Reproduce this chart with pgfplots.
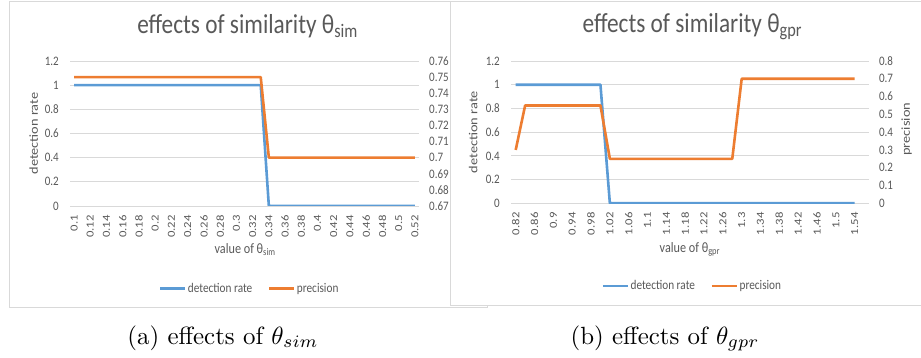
\documentclass[border=0pt]{standalone}
\usepackage{pgfplots}
\pgfplotsset{compat=1.18}
\usepackage{fontspec}
\newfontfamily\carlh[FakeStretch=0.85]{Carlito}
\newfontfamily\carlv[FakeStretch=1.18]{Carlito}
\definecolor{txt}{HTML}{595959}
\definecolor{grd}{HTML}{D9D9D9}
\definecolor{frm}{HTML}{D9D9D9}
\definecolor{blu}{HTML}{5B9BD5}
\definecolor{org}{HTML}{ED7D31}

\pgfplotstableread{
i det prec
0 1 0.75
1 1 0.75
2 1 0.75
3 1 0.75
4 1 0.75
5 1 0.75
6 1 0.75
7 1 0.75
8 1 0.75
9 1 0.75
10 1 0.75
11 1 0.75
12 1 0.75
13 1 0.75
14 1 0.75
15 1 0.75
16 1 0.75
17 1 0.75
18 1 0.75
19 1 0.75
20 1 0.75
21 1 0.75
22 1 0.75
23 1 0.75
24 0 0.70
25 0 0.70
26 0 0.70
27 0 0.70
28 0 0.70
29 0 0.70
30 0 0.70
31 0 0.70
32 0 0.70
33 0 0.70
34 0 0.70
35 0 0.70
36 0 0.70
37 0 0.70
38 0 0.70
39 0 0.70
40 0 0.70
41 0 0.70
42 0 0.70
}\simdata

\pgfplotstableread{
i det prec
0 1 0.30
1 1 0.55
2 1 0.55
3 1 0.55
4 1 0.55
5 1 0.55
6 1 0.55
7 1 0.55
8 1 0.55
9 1 0.55
10 0 0.25
11 0 0.25
12 0 0.25
13 0 0.25
14 0 0.25
15 0 0.25
16 0 0.25
17 0 0.25
18 0 0.25
19 0 0.25
20 0 0.25
21 0 0.25
22 0 0.25
23 0 0.25
24 0 0.70
25 0 0.70
26 0 0.70
27 0 0.70
28 0 0.70
29 0 0.70
30 0 0.70
31 0 0.70
32 0 0.70
33 0 0.70
34 0 0.70
35 0 0.70
36 0 0.70
}\gprdata

\pgfplotsset{
  excel/.style={
    scale only axis,
    axis line style={draw=none},
    major tick length=0pt,
    tick label style={font=\carlh\fontsize{13}{15}\selectfont, text=txt},
    xlabel style={font=\carlh\fontsize{14.4}{16}\selectfont, text=txt},
    ylabel style={font=\carlv\fontsize{12.2}{14}\selectfont, text=txt},
    yticklabel style={inner sep=0pt},
    /pgf/number format/assume math mode=true,
  },
  leftax/.style={
    excel,
    ymajorgrids, grid style={grd, line width=0.8bp},
    ymin=0, ymax=1.2,
    ytick={0,0.2,0.4,0.6,0.8,1,1.2},
    yticklabels={0,0.2,0.4,0.6,0.8,1,1.2},
    yticklabel style={anchor=east, xshift=-11bp},
    xticklabel style={font=\carlv\fontsize{10.8}{13}\selectfont, yshift=-9bp, rotate=90, anchor=east, inner sep=0pt},
    ylabel={detection rate},
    ylabel style={at={(axis description cs:-0.104,0.5)}, anchor=center, rotate=0},
  },
  rightax/.style={
    excel,
    axis y line*=right, axis x line=none,
    yticklabel style={anchor=west, xshift=10bp},
    legend columns=2,
    legend style={draw=none, fill=none, font=\carlh\fontsize{13.3}{15}\selectfont, text=txt,
      /tikz/every even column/.append style={column sep=14bp}, inner sep=0pt,
      nodes={inner sep=1.5bp, text=txt}},
    legend image code/.code={\draw[##1] (0bp,0bp) -- (25bp,0bp);},
  },
}

\begin{document}
\begin{tikzpicture}
\useasboundingbox (0,0) rectangle (921bp,358bp);
% left frame
\draw[frm, line width=1bp] (9bp,356.5bp) rectangle (487bp,50bp);

% ---------- left chart ----------
\begin{axis}[leftax,
  at={(70bp,152bp)}, anchor=south west, width=349bp, height=145bp,
  xmin=-0.5, xmax=42.5,
  xtick={0,2,...,42},
  xticklabels={0.1,0.12,0.14,0.16,0.18,0.2,0.22,0.24,0.26,0.28,0.3,0.32,0.34,0.36,0.38,0.4,0.42,0.44,0.46,0.48,0.5,0.52},
  xlabel={value of θ\textsubscript{sim}},
  xlabel style={at={(axis description cs:0.502,-0.303)}, anchor=center},
  title={effects of similarity θ\textsubscript{sim}},
  title style={at={(axis description cs:0.509,1.15)}, anchor=base, font=\carlh\fontsize{27.5}{30}\selectfont, text=txt},
]
\addplot[blu, line width=2.6bp, line join=round] table[x=i, y=det] {\simdata};
\end{axis}
\begin{axis}[rightax,
  at={(70bp,152bp)}, anchor=south west, width=349bp, height=145bp,
  xmin=-0.5, xmax=42.5,
  ymin=0.67, ymax=0.76,
  ytick={0.67,0.68,0.69,0.70,0.71,0.72,0.73,0.74,0.75,0.76},
  yticklabels={0.67,0.68,0.69,0.7,0.71,0.72,0.73,0.74,0.75,0.76},
  legend style={at={(axis description cs:0.514,-0.567)}, anchor=center},
]
\addlegendimage{blu, line width=2.6bp}
\addlegendentry{detection rate}
\addplot[org, line width=2.6bp, line join=round] table[x=i, y=prec] {\simdata};
\addlegendentry{precision}
\end{axis}

% right frame (on top of the left one)
\filldraw[fill=white, draw=frm, line width=1bp] (450bp,356.5bp) rectangle (930bp,52bp);

% ---------- right chart ----------
\begin{axis}[leftax,
  at={(511bp,154.7bp)}, anchor=south west, width=357.8bp, height=142.3bp,
  xmin=-0.5, xmax=37.5,
  xtick={0,2,...,36},
  xticklabels={0.82,0.86,0.9,0.94,0.98,1.02,1.06,1.1,1.14,1.18,1.22,1.26,1.3,1.34,1.38,1.42,1.46,1.5,1.54},
  xlabel={value of θ\textsubscript{gpr}},
  xlabel style={at={(axis description cs:0.50,-0.321)}, anchor=center},
  title={effects of similarity θ\textsubscript{gpr}},
  title style={at={(axis description cs:0.507,1.155)}, anchor=base, font=\carlh\fontsize{27.5}{30}\selectfont, text=txt},
  ylabel style={at={(axis description cs:-0.106,0.5)}},
]
\addplot[blu, line width=2.6bp, line join=round] table[x=i, y=det] {\gprdata};
\end{axis}
\begin{axis}[rightax,
  at={(511bp,154.7bp)}, anchor=south west, width=357.8bp, height=142.3bp,
  xmin=-0.5, xmax=37.5,
  ymin=0, ymax=0.8,
  ytick={0,0.1,0.2,0.3,0.4,0.5,0.6,0.7,0.8},
  yticklabels={0,0.1,0.2,0.3,0.4,0.5,0.6,0.7,0.8},
  ylabel={precision},
  ylabel style={at={(axis description cs:1.106,0.52)}, anchor=center, rotate=0},
  legend style={at={(axis description cs:0.506,-0.581)}, anchor=center},
]
\addlegendimage{blu, line width=2.6bp}
\addlegendentry{detection rate}
\addplot[org, line width=2.6bp, line join=round] table[x=i, y=prec] {\gprdata};
\addlegendentry{precision}
\end{axis}

% captions
\node[scale=2.5, anchor=base] at (223bp,14bp) {(a) effects of $\theta_{sim}$};
\node[scale=2.5, anchor=base] at (665bp,14bp) {(b) effects of $\theta_{gpr}$};
\end{tikzpicture}
\end{document}
